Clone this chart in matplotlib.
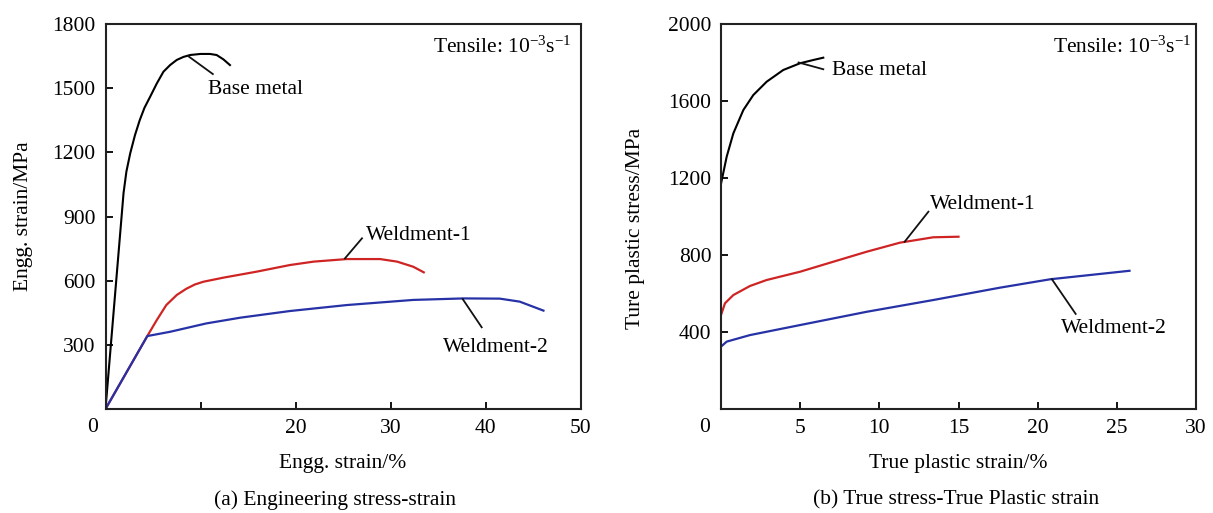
import matplotlib
matplotlib.use("Agg")
import matplotlib.pyplot as plt

plt.rcParams['font.family'] = ['Liberation Serif', 'DejaVu Serif']
plt.rcParams['mathtext.fontset'] = 'custom'
plt.rcParams['mathtext.rm'] = 'Liberation Serif'
plt.rcParams['mathtext.it'] = 'Liberation Serif:italic'
plt.rcParams['font.size'] = 15.5

# (a) engineering stress-strain
eng_base_x = [0, 1.9, 2.2, 2.6, 3.1, 3.6, 4.1, 4.7, 5.4, 6.1, 6.8, 7.5, 8.2, 8.9, 10.0, 11.0, 11.7, 12.4, 13.1]
eng_base_y = [0, 1010, 1110, 1195, 1280, 1350, 1408, 1460, 1522, 1577, 1608, 1632, 1646, 1655, 1660, 1660, 1655, 1635, 1608]

eng_w1_x = [0, 4.4, 5.4, 6.4, 7.5, 8.5, 9.4, 10.3, 12.4, 15.9, 19.4, 21.9, 25.4, 28.9, 30.7, 32.4, 33.5]
eng_w1_y = [0, 341, 416, 486, 533, 562, 582, 595, 614, 642, 673, 689, 701, 701, 689, 665, 639]

eng_w2_x = [0, 4.4, 6.8, 10.6, 14.2, 19.4, 25.4, 32.4, 37.7, 41.5, 43.6, 46.1]
eng_w2_y = [0, 341, 361, 400, 427, 458, 486, 510, 517, 516, 502, 460]

# (b) true stress - true plastic strain
true_base_x = [0.0, 0.36, 0.78, 1.41, 2.04, 2.88, 3.93, 4.99, 5.83, 6.46]
true_base_y = [1170, 1311, 1432, 1553, 1631, 1700, 1761, 1796, 1813, 1825]

true_w1_x = [0.0, 0.25, 0.78, 1.83, 2.88, 4.99, 7.09, 9.2, 11.3, 13.4, 15.0]
true_w1_y = [488, 549, 592, 639, 670, 713, 765, 817, 864, 892, 895]

true_w2_x = [0.0, 0.36, 1.83, 4.99, 9.2, 13.4, 17.6, 20.8, 25.8]
true_w2_y = [324, 350, 384, 436, 505, 566, 630, 674, 718]

RED = '#cf2424'
BLUE = '#2632a6'
W, H = 1213, 513

fig = plt.figure(figsize=(W / 100, H / 100), dpi=100)
ax1 = fig.add_axes([105.5 / W, 1 - 409 / H, 475 / W, 385 / H])
ax2 = fig.add_axes([721 / W, 1 - 409 / H, 475 / W, 385 / H])


def style(ax):
    for s in ax.spines.values():
        s.set_linewidth(1.5)
        s.set_color('#222222')
    ax.tick_params(direction='in', length=5, width=1.3, top=False, right=False,
                   pad=7, labelsize=15.5)


def note(ax, text, p0, p1, tx, ty, ha='left'):
    ax.plot([p0[0], p1[0]], [p0[1], p1[1]], color='#111111', lw=1.3)
    ax.text(tx, ty, text, ha=ha, va='center', fontsize=15.5)


# panel (a)
ax1.plot(eng_base_x, eng_base_y, color='black', lw=1.5)
ax1.plot(eng_w1_x, eng_w1_y, color=RED, lw=1.6)
ax1.plot(eng_w2_x, eng_w2_y, color=BLUE, lw=1.6)
ax1.set_xlim(0, 50)
ax1.set_ylim(0, 1800)
ax1.set_xticks([10, 20, 30, 40, 50])
ax1.set_xticklabels(['', '20', '30', '40', '50'])
ax1.set_yticks([300, 600, 900, 1200, 1500, 1800])
style(ax1)
ax1.set_xlabel('Engg. strain/%', labelpad=12)
ax1.set_ylabel('Engg. strain/MPa', labelpad=14)
ax1.annotate('0', xy=(0, 0), xycoords='axes fraction', xytext=(-13, -18),
             textcoords='offset pixels', ha='center', va='center', fontsize=15.5)
ax1.text(0.982, 0.94, 'Tensile: 10$^{-3}$s$^{-1}$', transform=ax1.transAxes,
         ha='right', va='center', fontsize=15.5)
note(ax1, 'Base metal', (8.7, 1650), (11.3, 1566), 10.8, 1495)
note(ax1, 'Weldment-1', (25.2, 704), (27.0, 798), 27.4, 810)
note(ax1, 'Weldment-2', (37.6, 514), (39.6, 382), 35.5, 288)

# panel (b)
ax2.plot(true_base_x, true_base_y, color='black', lw=1.5)
ax2.plot(true_w1_x, true_w1_y, color=RED, lw=1.6)
ax2.plot(true_w2_x, true_w2_y, color=BLUE, lw=1.6)
ax2.set_xlim(0, 30)
ax2.set_ylim(0, 2000)
ax2.set_xticks([5, 10, 15, 20, 25, 30])
ax2.set_yticks([400, 800, 1200, 1600, 2000])
style(ax2)
ax2.set_xlabel('True plastic strain/%', labelpad=12)
ax2.set_ylabel('Ture plastic stress/MPa')
ax2.yaxis.set_label_coords(-0.16, 0.47)
ax2.annotate('0', xy=(0, 0), xycoords='axes fraction', xytext=(-16, -18),
             textcoords='offset pixels', ha='center', va='center', fontsize=15.5)
ax2.text(0.99, 0.94, 'Tensile: 10$^{-3}$s$^{-1}$', transform=ax2.transAxes,
         ha='right', va='center', fontsize=15.5)
note(ax2, 'Base metal', (4.9, 1800), (6.46, 1765), 7.0, 1761)
note(ax2, 'Weldment-1', (11.6, 869), (13.1, 1025), 13.2, 1060)
note(ax2, 'Weldment-2', (20.9, 674), (22.4, 494), 21.5, 419)

fig.text(335 / W, 1 - 500 / H, '(a) Engineering stress-strain', ha='center', va='center',
         fontsize=15.5)
fig.text(956 / W, 1 - 500 / H, '(b) True stress-True Plastic strain', ha='center',
         va='center', fontsize=15.5)

fig.savefig('out.png', dpi=100)
